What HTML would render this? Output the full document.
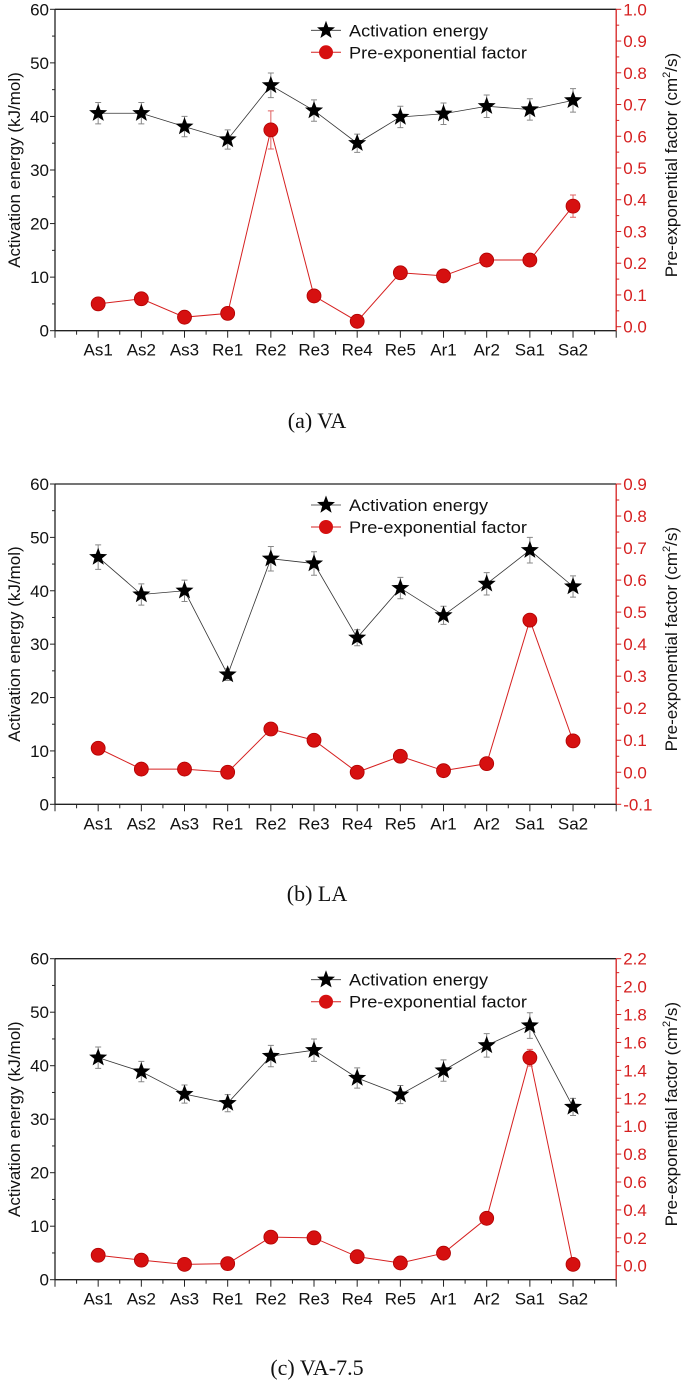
<!DOCTYPE html>
<html><head><meta charset="utf-8">
<style>
body{margin:0;background:#fff;}
svg{display:block;font-family:"Liberation Sans",Arial,sans-serif;}
</style></head>
<body>
<svg id="fig" width="685" height="1381" viewBox="0 0 685 1381" xmlns="http://www.w3.org/2000/svg"></svg>
<script>
const categories = ["As1","As2","As3","Re1","Re2","Re3","Re4","Re5","Ar1","Ar2","Sa1","Sa2"];
const aeA = [40.6,40.6,38.1,35.7,45.8,41.1,35.0,39.9,40.5,41.9,41.3,43.0];
const aeErrA = [2,2,1.9,1.8,2.3,2,1.7,2,2,2.1,2,2.2];
const pefA = [0.072,0.088,0.030,0.042,0.620,0.097,0.017,0.170,0.160,0.210,0.210,0.380];
const pefErrA = [0,0,0,0,0.06,0,0,0,0,0,0,0.035];
const aeB = [46.3,39.3,40.0,24.3,46.0,45.1,31.2,40.5,35.4,41.3,47.6,40.8];
const aeErrB = [2.3,2,2,1.1,2.3,2.2,1.5,2,1.7,2.1,2.4,2];
const pefB = [0.075,0.010,0.010,0.000,0.135,0.100,0.000,0.050,0.005,0.027,0.475,0.098];
const pefErrB = [0,0,0,0,0,0,0,0,0,0,0.015,0];
const aeC = [41.5,38.9,34.7,33.0,41.8,42.9,37.7,34.6,39.1,43.8,47.5,32.3];
const aeErrC = [2,1.9,1.7,1.6,2,2.1,1.9,1.7,2,2.2,2.4,1.6];
const pefC = [0.075,0.040,0.010,0.015,0.205,0.200,0.065,0.020,0.090,0.340,1.490,0.010];
const pefErrC = [0,0,0,0,0,0,0,0,0,0,0.06,0];
const leftTicks = [0,10,20,30,40,50,60];
const rightTicksA = ["0.0","0.1","0.2","0.3","0.4","0.5","0.6","0.7","0.8","0.9","1.0"];
const rightTicksB = ["-0.1","0.0","0.1","0.2","0.3","0.4","0.5","0.6","0.7","0.8","0.9"];
const rightTicksC = ["0.0","0.2","0.4","0.6","0.8","1.0","1.2","1.4","1.6","1.8","2.0","2.2"];

const NS="http://www.w3.org/2000/svg";
const svg=document.getElementById('fig');
function mk(tag,attrs,parent,text){const e=document.createElementNS(NS,tag);for(const k in attrs)e.setAttribute(k,attrs[k]);if(text!==undefined)e.textContent=text;(parent||svg).appendChild(e);return e;}
function starPts(cx,cy,R){const r=R*0.42;let p=[];for(let i=0;i<10;i++){const a=-Math.PI/2+i*Math.PI/5;const rr=i%2?r:R;p.push((cx+rr*Math.cos(a)).toFixed(1)+","+(cy+rr*Math.sin(a)).toFixed(1));}return p.join(" ");}

function panel(name,top,bottom,rMin,rMax,rTicks,ae,aeErr,pef,pefErr,caption,capY){
  const L=55,R=616.2;
  const g=mk('g',{});
  
  
  const xs=i=>L+(i+1)*(R-L)/13;
  const yL=v=>bottom-(v/60)*(bottom-top);
  const yR=v=>bottom-((v-rMin)/(rMax-rMin))*(bottom-top);
  let e=mk('line',{x1:L,y1:top,x2:R,y2:top,stroke:'#222','stroke-width':1.3},g);
  e=mk('line',{x1:L,y1:top,x2:L,y2:bottom,stroke:'#222','stroke-width':1.3},g);
  
  e=mk('line',{x1:L,y1:bottom,x2:R,y2:bottom,stroke:'#222','stroke-width':1.3},g);
  
  e=mk('line',{x1:R,y1:top,x2:R,y2:bottom,stroke:'#d62020','stroke-width':1.3},g);
  
  leftTicks.forEach(v=>{
    mk('line',{x1:L-5,y1:yL(v),x2:L,y2:yL(v),stroke:'#222'},g);
    if(v<60) mk('line',{x1:L-3,y1:yL(v+5),x2:L,y2:yL(v+5),stroke:'#222'},g);
    const t=mk('text',{x:L-6,y:yL(v)+6,'text-anchor':'end','font-size':17,fill:'#111'},g,String(v));
    
  });
  rTicks.forEach((s,i)=>{
    const v=parseFloat(s);const y=yR(v);
    mk('line',{x1:R,y1:y,x2:R+5,y2:y,stroke:'#d62020'},g);
    if(i<rTicks.length-1){const v2=parseFloat(rTicks[i+1]);mk('line',{x1:R,y1:yR((v+v2)/2),x2:R+3,y2:yR((v+v2)/2),stroke:'#d62020'},g);}
    const t=mk('text',{x:R+7,y:y+6,'font-size':17,fill:'#d62020'},g,s);
    
  });
  for(let i=0;i<=26;i++){const x=L+i*(R-L)/26;mk('line',{x1:x,y1:bottom,x2:x,y2:bottom+(i%2?4:7),stroke:'#222'},g);}
  categories.forEach((c,i)=>{
    const t=mk('text',{x:xs(i),y:bottom+25,'text-anchor':'middle','font-size':17,fill:'#111'},g,c);
    
  });
  const cy=(top+bottom)/2;
  let t=mk('text',{x:0,y:0,transform:`translate(20,${cy}) rotate(-90)`,'text-anchor':'middle','font-size':17,fill:'#111'},g,'Activation energy (kJ/mol)');
  
  t=mk('text',{x:0,y:0,transform:`translate(677,${cy-5}) rotate(-90)`,'text-anchor':'middle','font-size':17,fill:'#111'},g);
  
  mk('tspan',{},t,'Pre-exponential factor (cm');mk('tspan',{'font-size':11,dy:-7},t,'2');mk('tspan',{dy:7},t,'/s)');
  let pts=pef.map((v,i)=>xs(i)+","+yR(v)).join(" ");
  e=mk('polyline',{points:pts,fill:'none',stroke:'#d62020','stroke-width':1},g);
  
  pef.forEach((v,i)=>{
    if(pefErr[i]>0){const x=xs(i);mk('path',{d:`M${x},${yR(v-pefErr[i])}V${yR(v+pefErr[i])}M${x-3},${yR(v+pefErr[i])}h6M${x-3},${yR(v-pefErr[i])}h6`,stroke:'#e06060',fill:'none'},g);}
    const c=mk('circle',{cx:xs(i),cy:yR(v),r:7,fill:'#d61010',stroke:'#b00000','stroke-width':0.8},g);
    
  });
  pts=ae.map((v,i)=>xs(i)+","+yL(v)).join(" ");
  e=mk('polyline',{points:pts,fill:'none',stroke:'#333','stroke-width':0.8},g);
  
  ae.forEach((v,i)=>{
    const x=xs(i),y1=yL(v-aeErr[i]),y2=yL(v+aeErr[i]);
    mk('path',{d:`M${x},${y1}V${y2}M${x-3},${y1}h6M${x-3},${y2}h6`,stroke:'#888',fill:'none'},g);
    const s=mk('polygon',{points:starPts(x,yL(v),9.5),fill:'#000'},g);
    
  });
  const lg=mk('g',{},g);
  
  const ly1=top+21,ly2=top+43,lx=L+256;
  mk('line',{x1:lx,y1:ly1,x2:lx+30,y2:ly1,stroke:'#333','stroke-width':0.8},lg);
  mk('polygon',{points:starPts(lx+15,ly1,9.5),fill:'#000'},lg);
  t=mk('text',{x:lx+38,y:ly1+6,'font-size':17,fill:'#111',textLength:139,lengthAdjust:'spacingAndGlyphs'},lg,'Activation energy');
  
  mk('line',{x1:lx,y1:ly2,x2:lx+30,y2:ly2,stroke:'#d62020','stroke-width':1},lg);
  mk('circle',{cx:lx+15,cy:ly2,r:7,fill:'#d61010'},lg);
  t=mk('text',{x:lx+38,y:ly2+6,'font-size':17,fill:'#111',textLength:178,lengthAdjust:'spacingAndGlyphs'},lg,'Pre-exponential factor');
  
  t=mk('text',{x:317,y:capY,'text-anchor':'middle','font-size':22,'font-family':'"Liberation Serif",serif',fill:'#111'},g,caption);
  
}
panel('panel-a-va',9.3,330.7,-0.0126,1.0,rightTicksA,aeA,aeErrA,pefA,pefErrA,'(a) VA',428);
panel('panel-b-la',484,804.3,-0.1,0.9,rightTicksB,aeB,aeErrB,pefB,pefErrB,'(b) LA',901);
panel('panel-c-va75',958.7,1279.7,-0.1,2.2,rightTicksC,aeC,aeErrC,pefC,pefErrC,'(c) VA-7.5',1375);
</script>
</body></html>
